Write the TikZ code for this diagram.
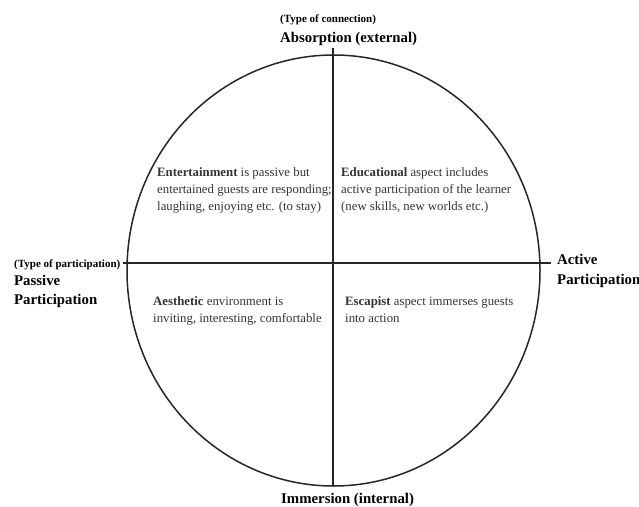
\documentclass[tikz,border=0pt]{standalone}
\usepackage{fontspec}
\setmainfont{Liberation Serif}
\begin{document}
\begin{tikzpicture}[x=1pt,y=-1pt,
  txt/.style={anchor=base west,inner sep=0pt,font=\fontsize{12.8}{15}\selectfont,text=black!80},
  big/.style={anchor=base west,inner sep=0pt,font=\fontsize{14.8}{17}\selectfont\bfseries},
  small/.style={anchor=base west,inner sep=0pt,font=\fontsize{11}{13}\selectfont\bfseries},
  axis/.style={draw=black!85,line width=1.1pt},
  rim/.style={draw=black!85,line width=1.5pt}]
\useasboundingbox (0,0) rectangle (639,506);
% circle
\coordinate (c) at (333.5,270.5);
\draw[rim] (c) ellipse [x radius=206.5, y radius=215.5];
% axes
\coordinate (vt) at (333,48);
\coordinate (vb) at (333,486);
\coordinate (hl) at (123,263);
\coordinate (hr) at (551,263);
\draw[axis] (vt) -- (vb);
\draw[axis] (hl) -- (hr);
% axis labels
\node[small] (tc) at (280,22) {(Type of connection)};
\node[big] (abs) at (280,42) {Absorption (external)};
\node[big] (imm) at (281,503) {Immersion (internal)};
\node[small] (tp) at (14,267) {(Type of participation)};
\node[big] (pas1) at (14,285) {Passive};
\node[big] (pas2) at (14,304) {Participation};
\node[big] (act1) at (557,264) {Active};
\node[big] (act2) at (557,284) {Participation};
% quadrants
\node[txt] (e1) at (157,176) {\textbf{Entertainment} is passive but};
\node[txt] (e2) at (157,193) {entertained guests are responding;};
\node[txt] (e3) at (157,210) {laughing, enjoying etc. (to stay)};
\node[txt] (d1) at (341,176) {\textbf{Educational} aspect includes};
\node[txt] (d2) at (341,193) {active participation of the learner};
\node[txt] (d3) at (341,210) {(new skills, new worlds etc.)};
\node[txt] (a1) at (153,305) {\textbf{Aesthetic} environment is};
\node[txt] (a2) at (153,322) {inviting, interesting, comfortable};
\node[txt] (s1) at (345,305) {\textbf{Escapist} aspect immerses guests};
\node[txt] (s2) at (345,322) {into action};
\end{tikzpicture}
\end{document}
